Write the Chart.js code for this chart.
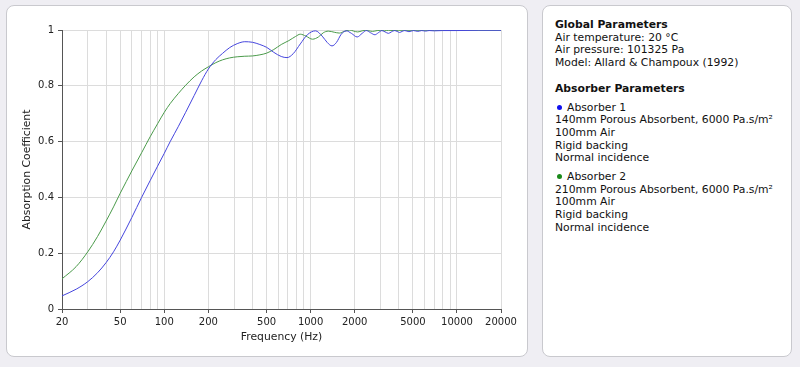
<!DOCTYPE html>
<html>
<head>
<meta charset="utf-8">
<script src="https://cdn.jsdelivr.net/npm/chart.js@4"></script>
<style>
  body { margin: 0; background: #efeef3; font-family: "DejaVu Sans", Verdana, sans-serif; }
  .panel { position: absolute; background: #fff; border: 1px solid #c9c9ce; border-radius: 8px; }
  #chartPanel { left: 6px; top: 5px; width: 520px; height: 350px; }
  #sidePanel { left: 542px; top: 5px; width: 248px; height: 350px; }
  .side { position: absolute; left: 12px; top: 13px; font-size: 10.8px; line-height: 12.7px; color: #111; }
  .side .h { font-weight: bold; }
  .gap1 { margin-top: 13px; }
  .gap2 { margin-top: 6px; }
  .dot { display: inline-block; width: 5px; height: 5px; border-radius: 50%; margin: 0 5px 1px 2px; vertical-align: middle; }
</style>
</head>
<body>
<div class="panel" id="chartPanel"><canvas id="absChart" width="520" height="350"></canvas></div>
<div class="panel" id="sidePanel">
  <div class="side">
    <div class="h">Global Parameters</div>
    <div>Air temperature: 20 °C</div>
    <div>Air pressure: 101325 Pa</div>
    <div>Model: Allard &amp; Champoux (1992)</div>
    <div class="h gap1">Absorber Parameters</div>
    <div class="gap2"><span class="dot" style="background:#1010ee"></span>Absorber 1</div>
    <div>140mm Porous Absorbent, 6000 Pa.s/m²</div>
    <div>100mm Air</div>
    <div>Rigid backing</div>
    <div>Normal incidence</div>
    <div class="gap2"><span class="dot" style="background:#1a8a1a"></span>Absorber 2</div>
    <div>210mm Porous Absorbent, 6000 Pa.s/m²</div>
    <div>100mm Air</div>
    <div>Rigid backing</div>
    <div>Normal incidence</div>
  </div>
</div>
<script>
// Absorber 1: 140mm porous + 100mm air
const freq1 = [20, 25, 30, 35, 40, 45, 50, 60, 70, 80, 90, 100, 110, 125, 140, 160, 180, 200, 225, 250, 280, 315, 355, 400, 450, 500, 560, 630, 690, 760, 850, 950, 1080, 1200, 1300, 1400, 1500, 1620, 1750, 1900, 2080, 2250, 2400, 2570, 2750, 2900, 3070, 3230, 3400, 3560, 3730, 3900, 4050, 4220, 4400, 4700, 5050, 5400, 5750, 6100, 6450, 7000, 8000, 10000, 14000, 20000];
const alpha1 = [0.047, 0.071, 0.098, 0.13, 0.166, 0.205, 0.247, 0.328, 0.4, 0.46, 0.512, 0.558, 0.601, 0.655, 0.705, 0.765, 0.818, 0.86, 0.894, 0.916, 0.937, 0.951, 0.958, 0.956, 0.948, 0.938, 0.92, 0.905, 0.901, 0.915, 0.95, 0.983, 0.997, 0.978, 0.955, 0.943, 0.955, 0.985, 0.997, 0.988, 0.975, 0.988, 0.998, 0.99, 0.983, 0.99, 0.998, 0.993, 0.988, 0.993, 0.998, 0.995, 0.991, 0.995, 0.998, 0.994, 0.998, 0.995, 0.998, 0.996, 0.998, 0.997, 0.998, 0.998, 0.999, 0.999];

// Absorber 2: 210mm porous + 100mm air
const freq2 = [20, 25, 30, 35, 40, 45, 50, 55, 60, 70, 80, 90, 100, 110, 125, 140, 160, 180, 200, 225, 250, 280, 315, 355, 400, 450, 500, 560, 630, 710, 790, 850, 930, 1030, 1130, 1220, 1320, 1450, 1570, 1700, 1850, 1970, 2100, 2250, 2380, 2500, 2650, 2850, 3000, 3200, 3400, 3700, 4000, 5000, 7000, 10000, 20000];
const alpha2 = [0.108, 0.152, 0.205, 0.26, 0.315, 0.366, 0.415, 0.457, 0.495, 0.56, 0.617, 0.664, 0.705, 0.737, 0.773, 0.802, 0.832, 0.853, 0.868, 0.883, 0.893, 0.9, 0.904, 0.906, 0.907, 0.911, 0.917, 0.93, 0.948, 0.962, 0.977, 0.985, 0.978, 0.967, 0.975, 0.99, 0.996, 0.992, 0.989, 0.995, 1.0, 0.996, 0.993, 0.997, 0.999, 0.997, 0.995, 0.998, 0.999, 0.997, 0.999, 0.998, 0.999, 0.999, 0.999, 0.999, 0.999];

// gridlines on the log axis, and the ones that get a label
const xGrid = [20, 30, 40, 50, 60, 70, 80, 90, 100, 200, 300, 400, 500, 600, 700, 800, 900, 1000, 2000, 3000, 4000, 5000, 6000, 7000, 8000, 9000, 10000, 20000];
const xTickLabels = [20, 50, 100, 200, 500, 1000, 2000, 5000, 10000, 20000];

const tickFont = { family: "DejaVu Sans", size: 10 };
const titleFont = { family: "DejaVu Sans", size: 10.8 };

function toPoints(xs, ys) {
    return xs.map((x, i) => ({ x: x, y: ys[i] }));
}

new Chart(document.getElementById("absChart").getContext("2d"), {
    type: "line",
    data: {
        datasets: [
            {
                label: "Absorber 1",
                data: toPoints(freq1, alpha1),
                borderColor: "#4545dd",
                borderWidth: 1,
                pointRadius: 0,
                cubicInterpolationMode: "monotone",
            },
            {
                label: "Absorber 2",
                data: toPoints(freq2, alpha2),
                borderColor: "#4a9a4a",
                borderWidth: 1,
                pointRadius: 0,
                cubicInterpolationMode: "monotone",
            },
        ],
    },
    options: {
        responsive: false,
        animation: false,
        layout: { padding: { left: 0, top: 24, right: 26, bottom: 0 } },
        plugins: { legend: { display: false }, tooltip: { enabled: false } },
        scales: {
            x: {
                type: "logarithmic",
                min: 20,
                max: 20000,
                afterBuildTicks: (scale) => {
                    scale.ticks = xGrid.map((v) => ({ value: v }));
                },
                afterFit: (scale) => {
                    scale.height = 47;
                },
                ticks: {
                    autoSkip: false,
                    maxRotation: 0,
                    padding: 3,
                    color: "#222",
                    font: tickFont,
                    callback: (v) => (xTickLabels.includes(v) ? String(v) : ""),
                },
                grid: {
                    color: "#dcdcdc",
                    tickLength: 4,
                    tickColor: (ctx) => (ctx.tick && xTickLabels.includes(ctx.tick.value) ? "#555" : "rgba(0,0,0,0)"),
                },
                border: { color: "#555" },
                title: {
                    display: true,
                    text: "Frequency (Hz)",
                    color: "#222",
                    font: titleFont,
                    padding: { top: 0, bottom: 12 },
                },
            },
            y: {
                min: 0,
                max: 1,
                afterFit: (scale) => {
                    scale.width = 55;
                },
                ticks: {
                    stepSize: 0.2,
                    padding: 4,
                    color: "#222",
                    font: tickFont,
                    callback: (v) => String(Number(v.toFixed(1))),
                },
                grid: { color: "#dcdcdc", tickLength: 4, tickColor: "#555" },
                border: { color: "#555" },
                title: {
                    display: true,
                    text: "Absorption Coefficient",
                    color: "#222",
                    font: titleFont,
                    padding: { top: 14, bottom: 0 },
                },
            },
        },
    },
});
</script>
</body>
</html>
